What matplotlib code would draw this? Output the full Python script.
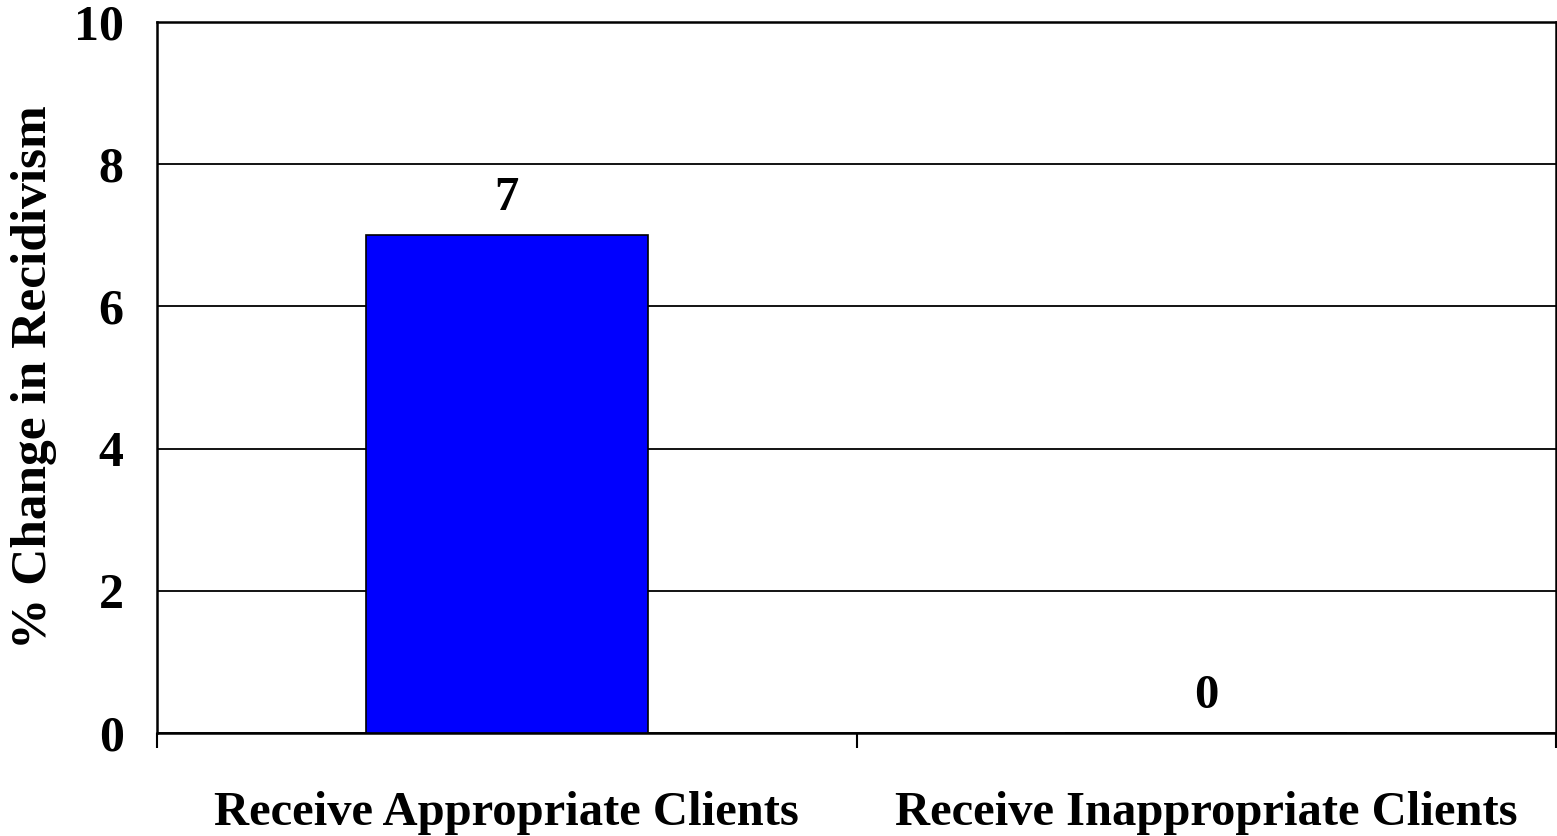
import numpy as np
import matplotlib.pyplot as plt

categories = ["Receive Appropriate Clients", "Receive Inappropriate Clients"]
values = [7, 0]
yticks = [0, 2, 4, 6, 8, 10]

plt.rcParams["font.family"] = ["Liberation Serif", "DejaVu Serif"]
plt.rcParams["font.weight"] = "bold"

fig = plt.figure(figsize=(15.57, 8.36), dpi=100)
ax = fig.add_axes([157 / 1557, 1 - 733 / 836, 1399 / 1557, 711 / 836])

x = np.arange(len(categories))
bars = ax.bar(x, values, width=0.403, color="#0000ff", edgecolor="black",
              linewidth=1.2, zorder=3)
for xi, v in zip(x, values):
    ax.annotate(f"{v}", xy=(xi, v), xytext=(0, 11), textcoords="offset points",
                ha="center", va="bottom", fontsize=35, fontweight="bold")

ax.set_xlim(-0.5, len(categories) - 0.5)
ax.set_ylim(0, 10)
ax.set_yticks(yticks)
ax.set_yticklabels([str(t) for t in yticks], fontsize=36, fontweight="bold")
ax.set_xticks(x)
ax.set_xticklabels(categories, fontsize=35, fontweight="bold")
ax.set_xticks(np.arange(len(categories) + 1) - 0.5, minor=True)
ax.tick_params(axis="x", which="major", length=0, pad=42)
ax.tick_params(axis="x", which="minor", length=11, width=1.5, direction="out")
ax.tick_params(axis="y", length=0, pad=24)
ax.yaxis.grid(True, color="black", linewidth=1.3, zorder=0)
ax.set_axisbelow(True)
for s in ax.spines.values():
    s.set_linewidth(1.8)
ax.set_ylabel("% Change in Recidivism", fontsize=37, fontweight="bold", labelpad=12)

fig.savefig("out.png", dpi=100)
